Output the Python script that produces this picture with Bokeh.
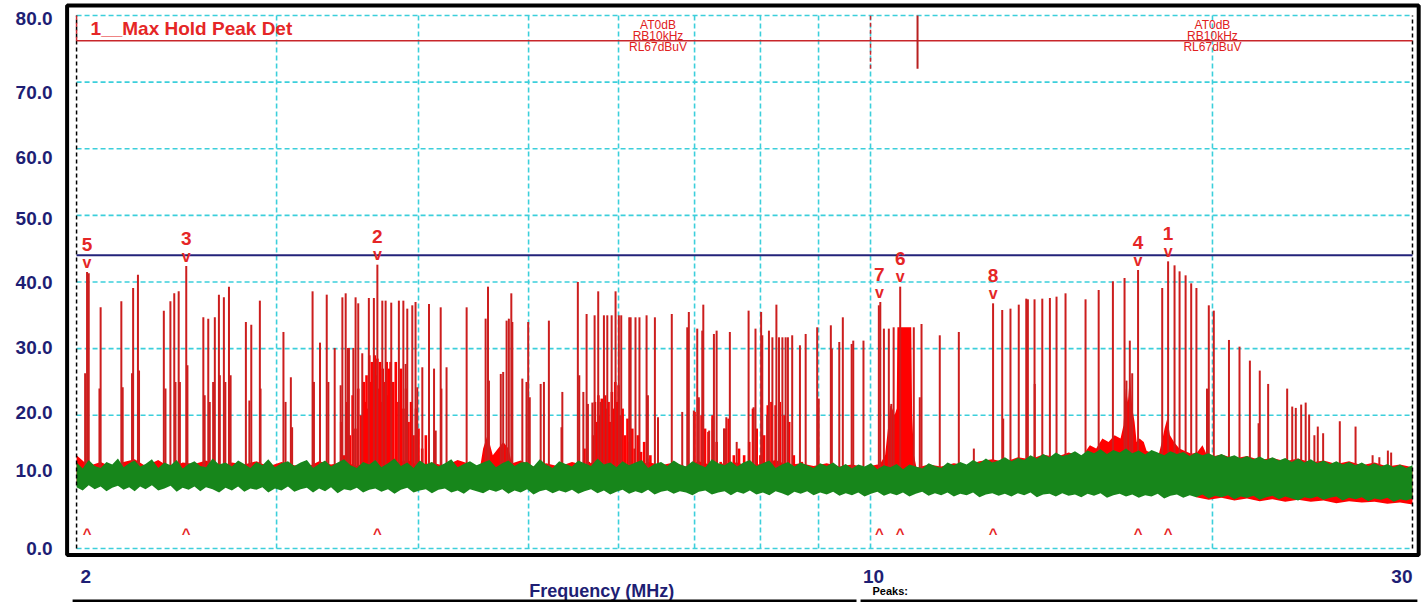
from bokeh.plotting import figure
from bokeh.models import Range1d, ColumnDataSource
from bokeh.core.properties import value
from bokeh.embed import file_html
from bokeh.resources import INLINE

FONT = "Liberation Sans"
RED = "#e52626"
SPIKE = "#cc1e1e"
FILL = "#ff0000"
NAVY = "#1e1e74"
GRIDC = "#3ccfdb"
GREEN = "#17861b"

# ---------------- data ----------------
f_start, f_stop = 2.0, 30.0
ref_level = 76.2          # red reference line (dBuV)
limit_level = 44.0        # blue limit line (dBuV)
floor_db = 10.0           # base of the spikes (hidden by the noise floor)
y_ticks = [0, 10, 20, 30, 40, 50, 60, 70, 80]
y_label_shift = [0, -11, -3, -1, 1, 3, 9, 10, 3]   # px, as printed by the receiver
grid_freqs = [3, 4, 5, 6, 7, 8, 9, 10, 20]
x_tick_vals = [2, 10, 30]
x_tick_labels = ["2", "10", "30"]

# spikes of the max-hold (red) trace: frequency (MHz), level (dBuV)
spike_f = [2.035, 2.043, 2.05, 2.095, 2.10, 2.19, 2.196, 2.238, 2.243, 2.265, 2.27,
           2.387, 2.395, 2.419, 2.438, 2.444, 2.46, 2.466, 2.498, 2.504,
           2.586, 2.593, 2.612, 2.62, 2.638, 2.647, 2.669, 2.674, 2.696, 2.704, 2.724, 2.733,
           2.819, 2.839, 2.85, 2.90, 2.904, 3.042, 3.055, 3.088, 3.096,
           3.227, 3.236, 3.276, 3.321, 3.332, 3.375, 3.416, 3.428, 3.451, 3.467, 3.474,
           3.505, 3.521, 3.54, 3.569, 3.617, 3.654, 3.68, 3.717, 3.742, 3.785, 3.844,
           3.879, 3.897, 3.91, 3.95, 3.976, 3.99,
           4.031, 4.086, 4.128, 4.142, 4.184, 4.19, 4.234, 4.41,
           4.583, 4.605, 4.614, 4.726, 4.749, 4.782, 4.804, 4.828, 4.838,
           4.937, 4.979, 4.996, 5.012, 5.124, 5.158, 5.21, 5.345, 5.354,
           5.525, 5.541, 5.587, 5.624, 5.639, 5.69, 5.716, 5.758, 5.786,
           5.825, 5.865, 5.917, 5.964, 6.004, 6.033, 6.132, 6.149, 6.21, 6.26,
           6.351, 6.368, 6.459, 6.5, 6.684, 6.827, 6.897, 6.919,
           6.99, 7.038, 7.06, 7.11, 7.125, 7.21, 7.26, 7.28, 7.32,
           7.43, 7.465, 7.519, 7.624, 7.81, 7.89, 7.92,
           8.011, 8.03, 8.11, 8.139, 8.196, 8.263, 8.307, 8.364, 8.419, 8.458, 8.532,
           8.667, 8.768, 8.975, 9.003, 9.227, 9.246, 9.386, 9.454, 9.625, 9.656, 9.858,
           10.17, 10.2, 10.275, 10.378, 10.43, 10.48, 10.62,
           10.917, 11.05, 11.089, 11.507, 11.96, 12.33,
           12.82, 13.06, 13.086, 13.28, 13.505, 13.712, 13.757, 13.944, 13.95,
           14.165, 14.385, 14.58, 14.848, 15.463, 15.88, 16.345, 16.735, 16.8, 16.915, 16.997,
           17.2, 18.063, 18.28, 18.52, 18.71, 18.94, 19.156, 19.36, 19.78, 19.852, 20.054,
           20.68, 21.127, 21.576, 21.96, 22.013, 22.39,
           23.27, 23.51, 23.68, 23.94, 24.16, 24.33, 24.59, 24.76, 25.03, 25.89, 26.73,
           27.67, 28.05, 28.54, 28.73]
spike_db = [26.3, 41.5, 41.3, 24.0, 36.2, 37.1, 24.2, 26.3, 39.1, 41.1, 26.7,
            35.7, 24.0, 37.1, 38.3, 25.0, 38.6, 25.0, 42.4, 27.5,
            34.7, 23.0, 34.5, 22.0, 25.0, 34.7, 38.1, 26.0, 37.7, 25.0, 39.3, 26.0,
            34.0, 22.2, 33.6, 37.2, 24.0, 32.5, 22.0, 25.7, 18.2,
            38.6, 25.0, 30.9, 38.1, 25.0, 30.1, 24.5, 37.7, 38.3, 30.1, 30.1,
            30.1, 37.7, 36.8, 29.3, 37.6, 37.6, 42.6, 37.2, 37.2, 36.9, 37.2,
            37.2, 27.7, 36.0, 36.5, 37.0, 24.2,
            27.2, 36.7, 27.0, 17.7, 36.2, 24.0, 27.2, 36.2,
            34.5, 39.3, 25.2, 26.2, 26.5, 34.2, 34.5, 38.3, 34.0,
            25.5, 25.0, 34.0, 22.7, 24.7, 25.0, 34.2, 18.2, 23.5,
            40.0, 26.0, 23.5, 35.2, 21.7, 21.9, 35.0, 38.6, 22.0,
            35.0, 35.0, 35.0, 38.6, 35.0, 35.0, 34.7, 34.7, 34.7, 34.7,
            35.0, 23.0, 34.7, 19.7, 35.2, 20.5, 33.2, 35.5,
            20.7, 33.0, 22.7, 32.7, 36.6, 17.7, 19.5, 32.2, 32.7,
            18.0, 19.7, 32.5, 16.0, 35.7, 21.2, 33.0,
            35.5, 32.0, 20.0, 32.7, 31.7, 36.6, 31.7, 31.7, 31.7, 31.7, 32.0,
            30.5, 32.2, 33.2, 22.5, 33.5, 30.0, 31.0, 34.7, 30.7, 31.2, 31.2,
            36.5, 37.0, 33.0, 33.0, 21.7, 33.2, 39.3,
            33.2, 22.7, 33.7, 32.0, 32.5, 15.0,
            36.8, 35.8, 19.5, 36.0, 36.6, 37.5, 37.4, 37.4, 24.7,
            37.5, 37.6, 37.8, 38.3, 37.4, 38.8, 40.1, 40.6, 25.2, 31.2, 26.3,
            41.8, 39.1, 43.1, 42.5, 41.6, 41.0, 39.8, 39.1, 24.0, 36.5, 35.7,
            31.3, 30.3, 28.2, 18.8, 26.7, 24.7,
            24.0, 21.3, 21.1, 21.6, 21.9, 20.1, 17.0, 18.3, 17.3, 19.1, 18.3,
            14.0, 13.7, 14.7, 14.4]

# dense red clusters (many close lines, top level)
clA_f = [3.40, 3.42, 3.44, 3.46, 3.48, 3.50, 3.52, 3.54, 3.56, 3.58,
         3.59, 3.60, 3.61, 3.62, 3.63, 3.64, 3.65, 3.66, 3.67, 3.68,
         3.69, 3.70, 3.71, 3.72, 3.73, 3.74, 3.75, 3.76, 3.77, 3.78,
         3.80, 3.82, 3.84, 3.86, 3.88, 3.90, 3.92, 3.94, 3.96, 3.98, 4.00,
         4.03, 4.06, 4.09]
clA_db = [11, 19, 14, 22, 17, 23, 18, 24, 20, 25,
          22, 26, 21, 29, 25, 28, 23, 29, 26, 28.5,
          24, 28, 22, 27, 25, 24, 28, 23, 27, 28,
          25, 28, 22, 27, 21, 24, 19, 22, 17, 21, 18,
          15, 17, 11]
clC_f = [5.55, 5.60, 5.65, 5.70, 5.72, 5.74, 5.76, 5.78, 5.80, 5.82, 5.84, 5.86, 5.88,
         5.90, 5.92, 5.94, 5.96, 5.98, 6.00, 6.02, 6.05, 6.08, 6.11, 6.14, 6.17, 6.20,
         6.24, 6.28, 6.32, 6.36, 6.40, 6.45]
clC_db = [12, 15, 13, 17, 22, 19, 23, 20, 22.5, 19, 23, 21, 22,
          19, 23.5, 21, 25, 22, 24.5, 20, 21, 17, 19.5, 16, 18, 15,
          17, 14.5, 16, 13.5, 14, 11]
clD_f = [6.96, 7.00, 7.05, 7.10, 7.15, 7.20, 7.26, 7.32, 7.38, 7.44, 7.50, 7.58, 7.66, 7.74,
         7.82, 7.88, 7.94, 8.00, 8.06, 8.12, 8.18, 8.25, 8.32, 8.40, 8.48, 8.56, 8.70, 8.90]
clD_db = [12, 20.5, 22.5, 20, 18, 17.5, 20, 16, 13, 18, 19.5, 14, 15, 14,
          16, 21, 18, 14, 17, 21.5, 22, 21.5, 22, 20, 19, 14, 13, 12]
# red humps (filled envelope)
clB_f = [4.52, 4.56, 4.60, 4.65, 4.70, 4.75, 4.80, 4.86]
clB_db = [11, 15, 17, 14, 15, 16, 15, 11]
clE_f = [10.15, 10.22, 10.30, 10.36, 10.41, 10.45, 10.50, 10.545, 10.56, 10.70, 10.86,
         10.88, 10.92, 10.98]
clE_db = [12, 13, 14, 18, 21.5, 21, 20, 21, 33.2, 33.2, 33.2, 20, 14, 12]
clF_f = [15.3, 15.45, 15.6, 15.8, 16.0, 16.2, 16.4, 16.6, 16.7, 16.78, 16.85, 16.92, 17.0,
         17.08, 17.15, 17.25, 17.4, 17.55, 17.7, 17.9, 18.05, 18.15, 18.25, 18.35, 18.5,
         18.7, 19.0, 19.3, 19.6, 19.9]
clF_db = [12, 14.5, 15.5, 15, 16.5, 16, 17, 16.5, 18.5, 24, 22, 26, 21,
          19, 16, 16.5, 16, 14, 13, 13.5, 16, 18, 19.5, 17, 16,
          15, 14.5, 14, 15.5, 13]

# red trace noise floor (top envelope)
red_f = [2.00, 2.05, 2.10, 2.15, 2.20, 2.25, 2.30, 2.36, 2.42, 2.48,
         2.54, 2.60, 2.67, 2.74, 2.81, 2.88, 2.95, 3.03, 3.11, 3.19,
         3.27, 3.35, 3.44, 3.53, 3.62, 3.71, 3.81, 3.91, 4.01, 4.11,
         4.22, 4.33, 4.44, 4.56, 4.68, 4.80, 4.92, 5.05, 5.18, 5.32,
         5.46, 5.60, 5.75, 5.90, 6.05, 6.21, 6.37, 6.54, 6.71, 6.88,
         7.06, 7.25, 7.44, 7.63, 7.83, 8.04, 8.25, 8.46, 8.68, 8.91,
         9.15, 9.39, 9.63, 9.88, 10.14, 10.41, 10.68, 10.96, 11.25, 11.54,
         11.84, 12.15, 12.47, 12.80, 13.13, 13.48, 13.83, 14.19, 14.56, 14.94,
         15.33, 15.73, 16.15, 16.57, 17.00, 17.45, 17.90, 18.37, 18.85, 19.35,
         19.85, 20.37, 20.91, 21.45, 22.01, 22.59, 23.18, 23.79, 24.41, 25.05,
         25.71, 26.38, 27.07, 27.78, 28.51, 29.25, 30.00]
red_hi = [14.0, 12.4, 13.0, 12.2, 13.0, 13.4, 12.4, 13.3, 12.1, 12.9,
          12.7, 13.2, 12.3, 12.9, 12.6, 13.1, 12.3, 13.0, 12.5, 12.2,
          13.1, 12.6, 13.0, 12.4, 13.2, 12.5, 12.8, 13.3, 12.4, 12.9,
          12.4, 13.3, 12.7, 12.2, 13.0, 12.6, 13.2, 12.3, 12.8, 12.3,
          13.0, 12.5, 13.2, 12.4, 12.8, 12.2, 13.0, 12.5, 12.9, 12.3,
          13.1, 12.5, 12.8, 12.9, 12.3, 12.8, 13.3, 12.5, 12.8, 12.4,
          12.8, 12.3, 12.6, 12.2, 12.6, 12.0, 12.4, 12.1, 12.6, 12.3,
          12.8, 12.5, 13.1, 13.4, 13.0, 13.7, 13.4, 14.1, 13.7, 14.4,
          13.9, 14.7, 14.2, 14.8, 14.3, 14.7, 14.1, 14.6, 13.9, 14.4,
          13.7, 14.1, 13.5, 13.9, 13.3, 13.6, 13.1, 13.5, 12.9, 13.2,
          12.7, 13.1, 12.5, 12.9, 12.3, 12.6, 12.2]
# red trace dipping below the green one above 19 MHz (bottom envelope)
red_low_f = [19.35, 19.85, 20.37, 20.91, 21.45, 22.01, 22.59, 23.18, 23.79, 24.41,
             25.05, 25.71, 26.38, 27.07, 27.78, 28.51, 29.25, 30.00]
red_low_db = [7.7, 7.3, 7.6, 7.2, 7.5, 7.1, 7.4, 7.0, 7.3, 7.0,
              7.2, 6.8, 7.1, 6.9, 7.0, 6.7, 6.9, 6.6]

# green trace (noise band envelopes)
green_f = [2.000, 2.025, 2.050, 2.075, 2.100, 2.125, 2.150, 2.175, 2.200, 2.225,
           2.250, 2.275, 2.300, 2.330, 2.360, 2.390, 2.420, 2.450, 2.480, 2.510,
           2.540, 2.570, 2.600, 2.635, 2.670, 2.705, 2.740, 2.775, 2.810, 2.845,
           2.880, 2.915, 2.950, 2.990, 3.030, 3.070, 3.110, 3.150, 3.190, 3.230,
           3.270, 3.310, 3.350, 3.395, 3.440, 3.485, 3.530, 3.575, 3.620, 3.665,
           3.710, 3.760, 3.810, 3.860, 3.910, 3.960, 4.010, 4.060, 4.110, 4.165,
           4.220, 4.275, 4.330, 4.385, 4.440, 4.500, 4.560, 4.620, 4.680, 4.740,
           4.800, 4.860, 4.920, 4.985, 5.050, 5.115, 5.180, 5.250, 5.320, 5.390,
           5.460, 5.530, 5.600, 5.675, 5.750, 5.825, 5.900, 5.975, 6.050, 6.130,
           6.210, 6.290, 6.370, 6.455, 6.540, 6.625, 6.710, 6.795, 6.880, 6.970,
           7.060, 7.155, 7.250, 7.345, 7.440, 7.535, 7.630, 7.730, 7.830, 7.935,
           8.040, 8.145, 8.250, 8.355, 8.460, 8.570, 8.680, 8.795, 8.910, 9.030,
           9.150, 9.270, 9.390, 9.510, 9.630, 9.755, 9.880, 10.01, 10.14, 10.275,
           10.41, 10.545, 10.68, 10.82, 10.96, 11.105, 11.25, 11.395, 11.54, 11.69,
           11.84, 11.995, 12.15, 12.31, 12.47, 12.635, 12.80, 12.965, 13.13, 13.305,
           13.48, 13.655, 13.83, 14.01, 14.19, 14.375, 14.56, 14.75, 14.94, 15.135,
           15.33, 15.53, 15.73, 15.94, 16.15, 16.36, 16.57, 16.785, 17.00, 17.225,
           17.45, 17.675, 17.90, 18.135, 18.37, 18.61, 18.85, 19.10, 19.35, 19.60,
           19.85, 20.11, 20.37, 20.64, 20.91, 21.18, 21.45, 21.73, 22.01, 22.30,
           22.59, 22.885, 23.18, 23.485, 23.79, 24.10, 24.41, 24.73, 25.05, 25.38,
           25.71, 26.045, 26.38, 26.725, 27.07, 27.425, 27.78, 28.145, 28.51, 28.88,
           29.25, 29.625, 30.00]
green_hi = [12.9, 12.0, 13.3, 12.4, 12.1, 13.0, 12.6, 13.5, 12.2, 12.8,
            13.2, 12.3, 12.7, 13.4, 12.1, 12.9, 12.5, 13.3, 12.0, 12.7,
            13.1, 12.4, 12.2, 13.5, 12.6, 12.9, 12.3, 13.2, 12.7, 12.1,
            13.0, 12.5, 13.4, 12.2, 12.8, 13.1, 12.4, 12.9, 13.3, 12.1,
            12.7, 13.2, 12.3, 12.9, 13.4, 12.5, 12.1, 13.0, 12.6, 13.3,
            12.2, 12.8, 13.5, 12.4, 12.9, 12.1, 13.2, 12.6, 13.0, 12.3,
            12.8, 13.4, 12.2, 12.7, 13.1, 12.5, 12.9, 13.3, 12.2, 12.8,
            13.2, 12.4, 12.9, 13.0, 12.3, 13.4, 12.6, 12.1, 13.1, 12.7,
            12.3, 13.2, 12.8, 12.4, 13.5, 12.6, 12.9, 12.2, 13.1, 12.5,
            12.9, 13.3, 12.1, 12.7, 13.0, 12.4, 13.2, 12.6, 12.3, 13.1,
            12.6, 12.2, 13.4, 12.8, 12.5, 13.1, 12.3, 12.9, 13.3, 12.4,
            12.8, 13.2, 12.1, 12.6, 13.0, 12.3, 12.9, 12.5, 12.1, 12.8,
            12.4, 12.9, 12.2, 12.7, 12.0, 12.6, 12.3, 12.8, 11.9, 12.5,
            12.2, 12.7, 11.9, 12.6, 12.3, 12.0, 12.8, 12.4, 12.1, 12.9,
            12.5, 13.0, 12.6, 13.3, 12.8, 13.5, 12.9, 13.2, 13.7, 13.1,
            13.6, 13.3, 14.0, 13.5, 14.2, 13.7, 14.4, 13.9, 14.1, 14.6,
            14.0, 14.7, 14.3, 14.9, 14.2, 14.8, 14.4, 15.0, 14.3, 14.7,
            14.1, 14.8, 14.4, 14.0, 14.6, 14.2, 14.5, 13.9, 14.4, 14.0,
            14.3, 13.8, 14.2, 13.7, 14.0, 13.5, 13.9, 13.4, 13.8, 13.3,
            13.7, 13.2, 13.6, 13.0, 13.5, 12.9, 13.4, 12.8, 13.2, 12.7,
            13.1, 12.6, 13.0, 12.5, 12.9, 12.4, 12.8, 12.3, 12.7, 12.2,
            12.6, 12.1, 12.5]
green_lo = [9.2, 8.7, 9.5, 8.9, 9.3, 8.6, 9.1, 9.4, 8.8, 9.2,
            8.6, 9.3, 8.9, 9.5, 8.7, 9.0, 9.4, 8.5, 9.1, 8.8,
            9.3, 8.6, 9.2, 8.9, 8.4, 9.1, 8.7, 9.3, 8.5, 9.0,
            8.8, 9.2, 8.4, 9.0, 8.7, 9.3, 8.5, 8.9, 9.1, 8.4,
            9.0, 8.6, 9.2, 8.3, 8.9, 8.7, 9.1, 8.4, 8.8, 9.0,
            8.5, 8.9, 8.2, 8.8, 9.1, 8.4, 8.7, 8.9, 8.3, 8.8,
            9.0, 8.4, 8.7, 8.2, 8.9, 8.6, 8.3, 8.8, 8.5, 8.9,
            8.2, 8.7, 8.4, 8.9, 8.1, 8.6, 8.8, 8.3, 8.7, 8.4,
            8.8, 8.2, 8.6, 8.9, 8.3, 8.7, 8.1, 8.5, 8.8, 8.2,
            8.6, 8.3, 8.8, 8.1, 8.5, 8.7, 8.2, 8.6, 8.4, 8.0,
            8.5, 8.7, 8.1, 8.4, 8.6, 8.0, 8.5, 8.2, 8.7, 8.1,
            8.4, 8.0, 8.6, 8.3, 7.9, 8.5, 8.2, 8.6, 8.0, 8.4,
            8.1, 8.5, 7.9, 8.3, 8.0, 8.4, 7.8, 8.2, 8.5, 7.9,
            8.3, 8.0, 8.4, 7.8, 8.2, 8.5, 7.9, 8.3, 8.0, 8.4,
            7.8, 8.2, 8.0, 8.4, 7.7, 8.1, 8.3, 7.9, 8.2, 7.8,
            8.3, 8.0, 8.4, 7.7, 8.1, 8.2, 7.8, 8.3, 7.9, 8.1,
            7.7, 8.2, 7.9, 8.3, 7.6, 8.0, 8.2, 7.8, 8.1, 7.6,
            8.0, 7.8, 8.2, 7.5, 7.9, 8.1, 7.6, 8.0, 7.7, 8.1,
            7.5, 7.9, 7.7, 8.0, 7.4, 7.8, 7.6, 7.9, 7.3, 7.7,
            7.9, 7.4, 7.8, 7.5, 7.2, 7.7, 7.5, 7.8, 7.3, 7.6,
            7.8, 7.2, 7.6, 7.4, 7.7, 7.1, 7.5, 7.3, 7.6, 7.0,
            7.4, 7.2, 7.5]

# peak markers
marker_ids = ["1", "2", "3", "4", "5", "6", "7", "8"]
marker_f = [18.28, 3.68, 2.498, 17.2, 2.043, 10.62, 10.18, 12.82]
marker_db = [43.1, 42.6, 42.4, 41.8, 41.5, 39.3, 36.9, 36.8]

# receiver settings blocks and sweep segment markers
setting_f = [6.5, 20.0]
setting_lines = ["AT0dB", "RB10kHz", "RL67dBuV"]
segment_dashed_f = [10.0]
segment_solid_f = [11.0]
segment_lo, segment_hi = 72.0, 80.0

# panel border (axis limits of the display) and table edge below
panel_x = (1.962, 30.38)
panel_y = (-0.98, 81.5)
table_left = [1.984, 9.80]
table_right = [9.72, 30.30]
table_y = -7.88
xlabel_f = 5.8

# ---------------- figure ----------------
p = figure(width=1427, height=602, x_axis_type="log", title=None,
           x_axis_location=None, y_axis_location=None,
           x_range=Range1d(1.71422, 30.927), y_range=Range1d(-8.105, 82.251),
           output_backend="svg", toolbar_location=None, min_border=0)
p.background_fill_color = "white"
p.border_fill_color = "white"
p.outline_line_color = None
p.grid.visible = False

# grid
p.segment(x0=f_start, x1=f_stop, y0=y_ticks, y1=y_ticks, line_color=GRIDC,
          line_dash="5 3", line_width=1.6)
p.segment(x0=grid_freqs, x1=grid_freqs, y0=y_ticks[0], y1=y_ticks[-1], line_color=GRIDC,
          line_dash="5 3", line_width=1.6)

# red max-hold trace
p.varea(x=red_f, y1=floor_db, y2=red_hi, fill_color=FILL)
p.varea(x=red_low_f, y1=red_low_db, y2=floor_db, fill_color=FILL)
for cf, cd in [(clB_f, clB_db), (clE_f, clE_db), (clF_f, clF_db)]:
    p.varea(x=cf, y1=floor_db, y2=cd, fill_color=FILL)
for cf, cd in [(clA_f, clA_db), (clC_f, clC_db), (clD_f, clD_db)]:
    p.segment(x0=cf, y0=floor_db, x1=cf, y1=cd, line_color=FILL, line_width=2.6)
p.segment(x0=spike_f, y0=floor_db, x1=spike_f, y1=spike_db, line_color=SPIKE, line_width=2)

# green trace on top
n = min(len(green_f), len(green_hi), len(green_lo))
p.varea(x=green_f[:n], y1=green_lo[:n], y2=green_hi[:n], fill_color=GREEN)

# sweep edges
p.segment(x0=[f_start, f_stop], x1=[f_start, f_stop], y0=y_ticks[0], y1=y_ticks[-1],
          line_color="black", line_dash="4 3", line_width=1.5)

# reference and limit lines
p.line(x=[f_start, f_stop], y=[ref_level, ref_level], line_color="#c8262b", line_width=1.5)
p.line(x=[f_start, f_stop], y=[limit_level, limit_level], line_color="#23237a", line_width=2)

# segment markers at the top
p.segment(x0=[f_start], y0=[ref_level], x1=[f_start], y1=[y_ticks[-1]], line_color="#c8262b",
          line_width=1.5, line_dash="4 3")
p.segment(x0=segment_dashed_f, y0=segment_lo, x1=segment_dashed_f, y1=segment_hi,
          line_color="#c8262b", line_width=1.5, line_dash="4 3")
p.segment(x0=segment_solid_f, y0=segment_lo, x1=segment_solid_f, y1=segment_hi,
          line_color="#b82020", line_width=2)

# settings text
for i, t in enumerate(setting_lines):
    p.text(x=setting_f, y=[ref_level] * len(setting_f), text=value(t),
           y_offset=-16 + 11 * i, text_font=value(FONT), text_font_size="12px",
           text_color="#e02020", text_align="center", text_baseline="middle")

# title
p.text(x=[f_start], y=[y_ticks[-1]], text=value("1__Max Hold Peak Det"), x_offset=14,
       y_offset=13, text_font=value(FONT), text_font_style="bold", text_font_size="19px",
       text_color=RED, text_align="left", text_baseline="middle")

# peak markers
msrc = ColumnDataSource(dict(f=marker_f, db=marker_db, id=marker_ids))
p.text(x="f", y="db", text="id", source=msrc, y_offset=-28, text_font=value(FONT),
       text_font_size="19px", text_font_style="bold", text_color=RED,
       text_align="center", text_baseline="middle")
p.text(x="f", y="db", text=value("v"), source=msrc, y_offset=-10, text_font=value(FONT),
       text_font_size="16px", text_font_style="bold", text_color=RED,
       text_align="center", text_baseline="middle")
p.text(x="f", y=y_ticks[0], text=value("^"), source=msrc, y_offset=-15, text_font=value(FONT),
       text_font_size="15px", text_font_style="bold", text_color=RED,
       text_align="center", text_baseline="middle")

# y tick labels
ysrc = ColumnDataSource(dict(y=y_ticks, t=["%.1f" % t for t in y_ticks], dy=y_label_shift))
p.text(x=f_start, y="y", text="t", source=ysrc, x_offset=-24, y_offset="dy",
       text_font=value(FONT), text_font_style="bold", text_font_size="19px",
       text_color=NAVY, text_align="right", text_baseline="middle")

# x tick labels
for v_, t_, a_, o_ in zip(x_tick_vals, x_tick_labels, ["left", "center", "right"], [4, 3, 0]):
    p.text(x=[v_], y=[y_ticks[0]], text=value(t_), x_offset=o_, y_offset=28,
           text_font=value(FONT), text_font_style="bold", text_font_size="19px",
           text_color=NAVY, text_align=a_, text_baseline="middle")
p.text(x=[xlabel_f], y=[y_ticks[0]], text=value("Frequency (MHz)"), y_offset=42,
       text_font=value(FONT), text_font_style="bold", text_font_size="18px",
       text_color=NAVY, text_align="center", text_baseline="middle")
p.text(x=[10.0], y=[y_ticks[0]], text=value("Peaks:"), x_offset=2, y_offset=42,
       text_font=value(FONT), text_font_style="bold", text_font_size="11px",
       text_color="black", text_align="left", text_baseline="middle")

# panel border and table edge
p.quad(left=[panel_x[0]], right=[panel_x[1]], bottom=[panel_y[0]], top=[panel_y[1]],
       fill_color=None, line_color="black", line_width=4)
p.segment(x0=table_left, x1=table_right, y0=table_y, y1=table_y, line_color="black",
          line_width=3)

open("out.html", "w").write(file_html(p, INLINE))
